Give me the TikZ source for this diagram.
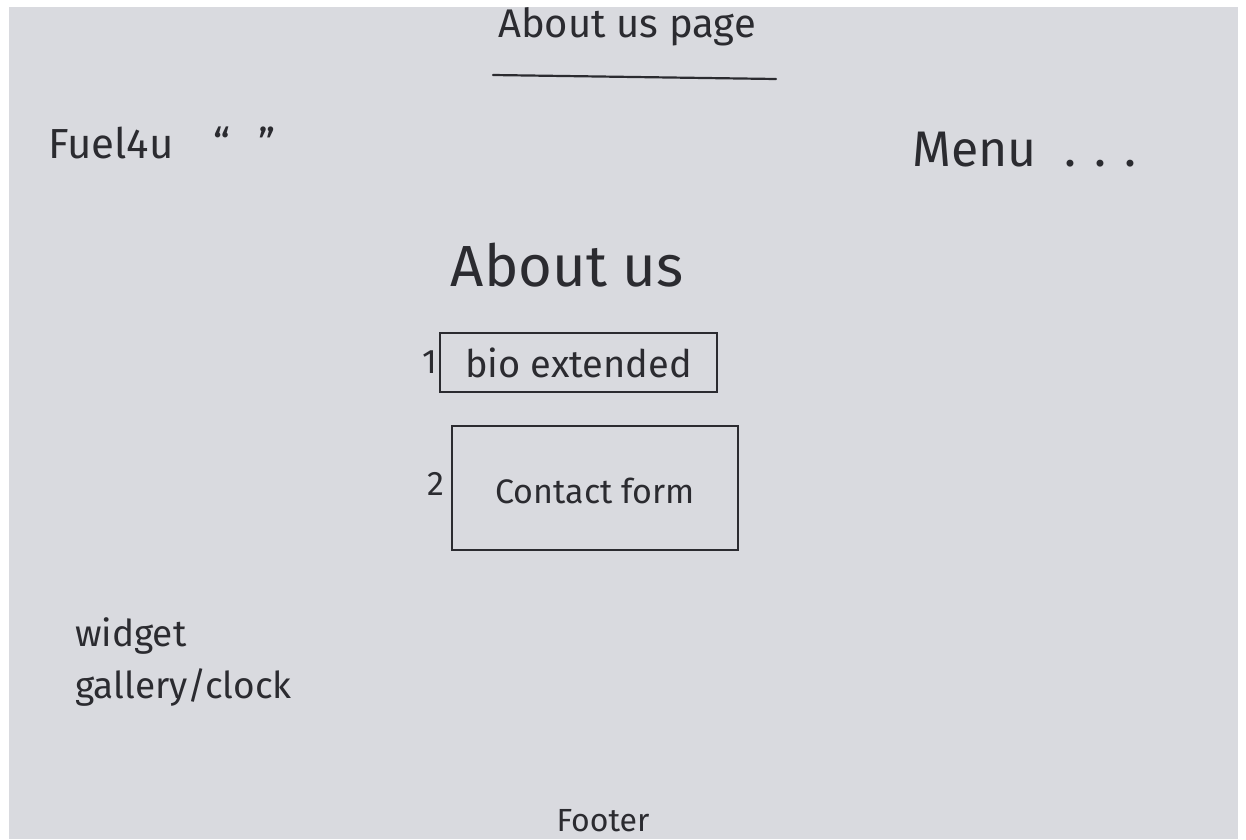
\documentclass[tikz,border=0pt]{standalone}
\usepackage{fontspec}
\setmainfont{Fira Sans}
\definecolor{paper}{HTML}{D9DADF}
\definecolor{ink}{HTML}{2B2B30}
\tikzset{
  hand/.style={text=ink, inner sep=0pt, font=\fontsize{#1}{#1}\selectfont},
  hand/.default=34,
  sketchbox/.style={draw=ink, line width=2pt, inner sep=0pt},
  pen/.style={draw=ink, line width=2.2pt, line cap=round}
}
\begin{document}
\begin{tikzpicture}[x=1pt,y=-1pt]
\useasboundingbox (0,0) rectangle (1246,839);
\fill[white] (0,0) rectangle (1246,839);
\fill[paper] (9,7) rectangle (1238,839);
% title
\node[hand=40] (title) at (627,27) {About us page};
\coordinate (ulA) at (493,75);
\coordinate (ulB) at (776,79);
\draw[pen] (ulA) -- (ulB);
% header
\node[hand=42, anchor=base west] (logo) at (48,158) {Fuel4u\hspace{40pt}“\hspace{28pt}”};
\node[hand=50, anchor=base west] (menu) at (912,166) {Menu\hspace{28pt}.\hspace{18pt}.\hspace{18pt}.};
% heading
\node[hand=58] (about) at (567,265) {About us};
% section 1
\node[sketchbox, minimum width=277pt, minimum height=59pt] (bio) at (578.5,362.5) {};
\node[hand=38] (biotext) at (bio.center) {bio extended};
\node[hand=34, anchor=east] (n1) at ([xshift=-2pt]bio.west) {1};
% section 2
\node[sketchbox, minimum width=286pt, minimum height=124pt] (contact) at (595,488) {};
\node[hand=34] (contacttext) at ([yshift=-3pt]contact.center) {Contact form};
\node[hand=34, anchor=east] (n2) at ([xshift=-6pt, yshift=4pt]contact.west) {2};
% widget
\node[text=ink, inner sep=0pt, font=\fontsize{37}{52}\selectfont, align=left, anchor=base west] (widget) at (75,698) {widget\\gallery/clock};
% footer
\node[hand=32, anchor=base] (footer) at (603,831) {Footer};
\end{tikzpicture}
\end{document}
